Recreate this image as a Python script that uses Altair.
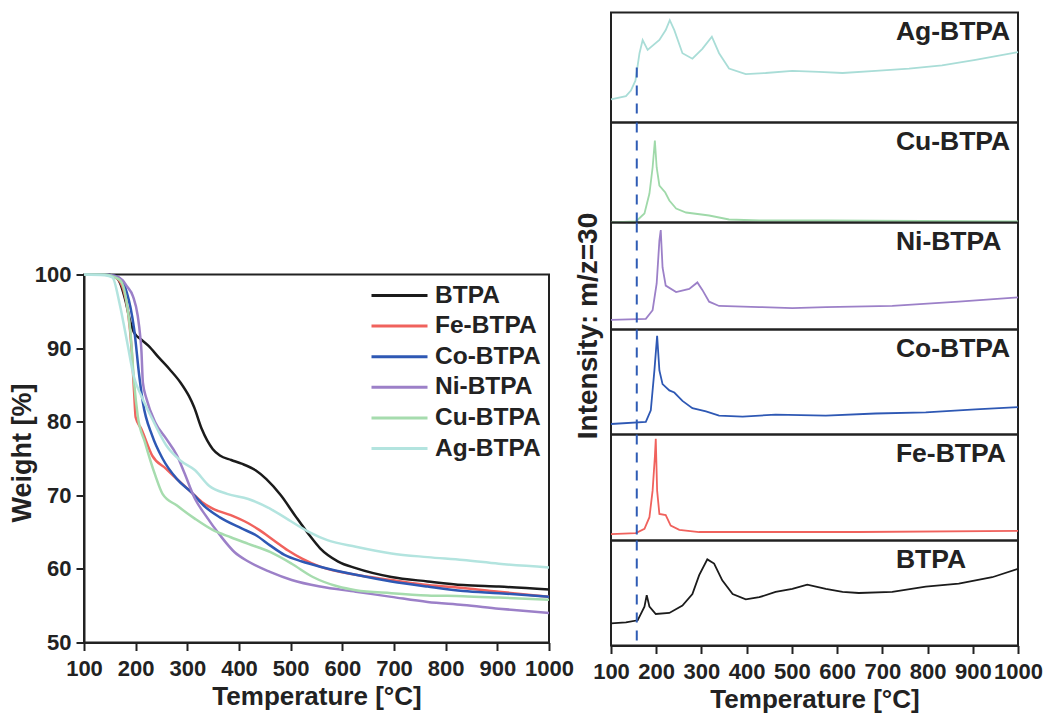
import altair as alt
import pandas as pd

FONT = "Liberation Sans"
INK = "#222222"

ORDER = ["BTPA", "Fe-BTPA", "Co-BTPA", "Ni-BTPA", "Cu-BTPA", "Ag-BTPA"]
COLORS = ["#1b1b1b", "#F0625D", "#2E58B4", "#9C80C8", "#A6DCAE", "#B3E4DF"]

# ---------------- TGA (left) ----------------
tga_T_btpa = [100, 140, 160, 170, 180, 190, 197, 210, 225, 245, 266, 287, 303, 313, 328, 349, 363, 385, 405, 432, 453, 481, 508, 536, 557, 592, 626, 695, 765, 834, 903, 1000]
tga_W_btpa = [100, 100, 99.7, 98.8, 96.5, 93.5, 92.1, 91.2, 90.3, 88.7, 87.1, 85.3, 83.5, 82.0, 79.0, 76.3, 75.4, 74.8, 74.3, 73.4, 72.2, 70.0, 67.3, 64.6, 62.8, 61.0, 60.1, 58.9, 58.3, 57.8, 57.6, 57.2]

tga_T_fe = [100, 140, 160, 170, 176, 185, 192, 197, 200, 211, 232, 259, 280, 308, 328, 349, 384, 418, 439, 467, 495, 522, 557, 626, 695, 765, 834, 903, 1000]
tga_W_fe = [100, 100, 99.6, 99.0, 98.0, 95.0, 90.0, 84.0, 80.6, 79.0, 75.4, 73.6, 72.2, 70.4, 69.1, 68.2, 67.3, 66.2, 65.3, 63.9, 62.5, 61.4, 60.3, 59.2, 58.5, 57.8, 57.4, 56.9, 56.2]

tga_T_co = [100, 140, 160, 175, 183, 190, 197, 207, 214, 232, 252, 280, 308, 335, 363, 405, 432, 460, 488, 522, 557, 626, 695, 765, 834, 903, 1000]
tga_W_co = [100, 100, 99.8, 99.0, 97.5, 95.5, 92.6, 86.2, 82.6, 78.1, 75.0, 72.2, 70.4, 68.4, 67.0, 65.5, 64.6, 63.2, 61.9, 61.0, 60.3, 59.2, 58.3, 57.6, 57.0, 56.7, 56.2]

tga_T_ni = [100, 140, 160, 175, 183, 195, 204, 209, 211, 214, 221, 238, 259, 280, 294, 315, 335, 363, 391, 418, 460, 502, 557, 626, 695, 765, 834, 903, 1000]
tga_W_ni = [100, 100, 99.8, 99.2, 98.4, 97.0, 94.4, 91.5, 89.8, 85.3, 83.1, 79.9, 77.7, 75.4, 73.1, 69.5, 67.3, 64.6, 62.3, 61.0, 59.6, 58.5, 57.6, 56.9, 56.2, 55.5, 55.1, 54.6, 54.0]

tga_T_cu = [100, 140, 160, 170, 176, 183, 190, 197, 204, 218, 238, 252, 280, 315, 349, 384, 418, 460, 502, 543, 592, 626, 695, 765, 834, 903, 1000]
tga_W_cu = [100, 100, 99.6, 99.2, 98.4, 96.0, 92.1, 85.3, 80.8, 77.2, 72.7, 70.2, 68.6, 66.8, 65.3, 64.3, 63.4, 62.3, 60.7, 58.9, 57.6, 57.1, 56.7, 56.4, 56.3, 56.1, 55.8]

tga_T_ag = [100, 140, 155, 169, 183, 197, 211, 232, 259, 287, 315, 342, 377, 418, 460, 502, 536, 571, 626, 695, 765, 834, 903, 1000]
tga_W_ag = [100, 99.9, 99.6, 96.0, 91.0, 86.0, 83.5, 80.4, 76.8, 74.7, 73.4, 71.3, 70.2, 69.5, 68.2, 66.4, 65.0, 63.9, 63.0, 62.1, 61.6, 61.2, 60.7, 60.2]

# ---------------- MS m/z=30 (right), intensity as fraction of panel height ----------------
ms_T_ag = [100, 133, 144, 154, 163, 170, 181, 207, 221, 230, 240, 258, 280, 302, 323, 339, 361, 398, 442, 501, 560, 612, 685, 759, 832, 906, 1000]
ms_V_ag = [0.21, 0.24, 0.29, 0.38, 0.63, 0.75, 0.66, 0.75, 0.84, 0.93, 0.84, 0.63, 0.58, 0.67, 0.78, 0.63, 0.49, 0.44, 0.45, 0.47, 0.46, 0.45, 0.47, 0.49, 0.52, 0.57, 0.64]

ms_T_cu = [100, 155, 174, 185, 192, 197, 201, 207, 220, 229, 244, 266, 317, 361, 428, 575, 1000]
ms_V_cu = [0.0, 0.01, 0.09, 0.29, 0.55, 0.82, 0.55, 0.37, 0.30, 0.22, 0.14, 0.10, 0.07, 0.03, 0.02, 0.02, 0.01]

ms_T_ni = [100, 177, 192, 201, 207, 210, 214, 221, 244, 273, 291, 302, 317, 339, 428, 501, 575, 722, 869, 1000]
ms_V_ni = [0.09, 0.10, 0.18, 0.43, 0.83, 0.93, 0.58, 0.41, 0.35, 0.38, 0.44, 0.37, 0.26, 0.22, 0.21, 0.20, 0.21, 0.22, 0.26, 0.30]

ms_T_co = [100, 177, 188, 196, 202, 207, 214, 229, 240, 258, 280, 310, 339, 391, 464, 575, 685, 796, 906, 1000]
ms_V_co = [0.10, 0.12, 0.23, 0.61, 0.94, 0.61, 0.48, 0.42, 0.40, 0.32, 0.25, 0.22, 0.18, 0.17, 0.19, 0.18, 0.20, 0.21, 0.24, 0.26]

ms_T_fe = [100, 155, 174, 185, 192, 197, 199, 202, 207, 221, 232, 251, 295, 428, 648, 1000]
ms_V_fe = [0.06, 0.07, 0.11, 0.22, 0.47, 0.79, 0.96, 0.47, 0.25, 0.24, 0.14, 0.10, 0.08, 0.08, 0.08, 0.09]

ms_T_btpa = [100, 133, 159, 174, 179, 185, 199, 229, 258, 280, 295, 313, 328, 346, 369, 398, 428, 464, 501, 534, 575, 612, 648, 722, 796, 869, 943, 1000]
ms_V_btpa = [0.21, 0.22, 0.24, 0.37, 0.48, 0.37, 0.30, 0.31, 0.38, 0.49, 0.67, 0.82, 0.78, 0.62, 0.49, 0.44, 0.46, 0.51, 0.54, 0.58, 0.54, 0.51, 0.50, 0.51, 0.56, 0.59, 0.65, 0.73]

# panels top to bottom
panel_names = ["Ag-BTPA", "Cu-BTPA", "Ni-BTPA", "Co-BTPA", "Fe-BTPA", "BTPA"]
panel_T = [ms_T_ag, ms_T_cu, ms_T_ni, ms_T_co, ms_T_fe, ms_T_btpa]
panel_V = [ms_V_ag, ms_V_cu, ms_V_ni, ms_V_co, ms_V_fe, ms_V_btpa]
panel_colors = ["#A9DDD7", "#9FD9A9", "#9C80C8", "#2E58B4", "#F0625D", "#1b1b1b"]
panel_heights = [110, 100, 107, 105, 106, 105]
dash_top = [0.5, 1, 1, 1, 1, 1]
dash_bot = [0, 0, 0, 0, 0, 0.048]
onset_T = 157
label_T = 730

# ---------------- build left chart ----------------
tga_sets = [
    ("BTPA", tga_T_btpa, tga_W_btpa),
    ("Fe-BTPA", tga_T_fe, tga_W_fe),
    ("Co-BTPA", tga_T_co, tga_W_co),
    ("Ni-BTPA", tga_T_ni, tga_W_ni),
    ("Cu-BTPA", tga_T_cu, tga_W_cu),
    ("Ag-BTPA", tga_T_ag, tga_W_ag),
]
rows = []
for name, T, W in tga_sets:
    for k, (t, w) in enumerate(zip(T, W)):
        rows.append({"sample": name, "T": t, "W": w, "i": k})
tga = pd.DataFrame(rows)

x_ticks = list(range(100, 1001, 100))

left_chart = alt.Chart(tga).mark_line(strokeWidth=2.5, interpolate="monotone").encode(
    x=alt.X("T:Q", scale=alt.Scale(domain=[100, 1000], nice=False, zero=False),
            axis=alt.Axis(values=x_ticks, title="Temperature [°C]", labelPadding=8,
                          titlePadding=4, labelFlush=False, labelOverlap=False, format="d")),
    y=alt.Y("W:Q", scale=alt.Scale(domain=[50, 100], nice=False, zero=False),
            axis=alt.Axis(values=[50, 60, 70, 80, 90, 100], title="Weight [%]", labelPadding=5,
                          titleX=-53.5, titleY=178, titleAngle=270, titleAlign="center",
                          titleBaseline="alphabetic", titleFontSize=27, format="d")),
    color=alt.Color("sample:N", sort=ORDER, scale=alt.Scale(domain=ORDER, range=COLORS),
                    legend=alt.Legend(title=None, orient="none", legendX=286, legendY=268,
                                      symbolType="stroke", symbolSize=3136, symbolStrokeWidth=3,
                                      clipHeight=30, rowPadding=0.6, labelFont=FONT,
                                      labelFontSize=24.5, labelFontWeight="bold", labelColor=INK,
                                      labelOffset=6, padding=0)),
    order=alt.Order("i:Q"),
    detail="sample:N",
).properties(width=465, height=368)

spacer = alt.Chart(pd.DataFrame({"a": [0]})).mark_point(opacity=0, size=1).encode(
    x=alt.value(100), y=alt.value(100)
).properties(width=465, height=262, view=alt.ViewBackground(stroke="transparent"))

left = alt.vconcat(spacer, left_chart, spacing=0, bounds="flush")

# ---------------- build right panels ----------------
panels = []
n = len(panel_names)
for j in range(n):
    df = pd.DataFrame({"T": panel_T[j], "V": panel_V[j]})
    last = j == n - 1
    if last:
        xaxis = alt.Axis(values=x_ticks, title="Temperature [°C]", labelPadding=8, titlePadding=4,
                         labelFlush=False, labelOverlap=False, format="d")
    else:
        xaxis = None
    if panel_names[j] == "Ni-BTPA":
        yaxis = alt.Axis(title="Intensity: m/z=30", labels=False, ticks=False, domain=False,
                         grid=False, titleX=-15, titleY=103, titleAngle=270, titleAlign="center",
                         titleBaseline="alphabetic", titleFontSize=28)
    else:
        yaxis = None
    xs = alt.Scale(domain=[100, 1000], nice=False, zero=False)
    ys = alt.Scale(domain=[0, 1], nice=False, zero=False)
    line = alt.Chart(df).mark_line(strokeWidth=1.8, color=panel_colors[j]).encode(
        x=alt.X("T:Q", scale=xs, axis=xaxis),
        y=alt.Y("V:Q", scale=ys, axis=yaxis),
    )
    rule_df = pd.DataFrame({"T": [onset_T], "y1": [dash_top[j]], "y2": [dash_bot[j]]})
    rule = alt.Chart(rule_df).mark_rule(color="#2F5CB5", strokeWidth=2, strokeDash=[10, 8]).encode(
        x=alt.X("T:Q", scale=xs), y=alt.Y("y1:Q", scale=ys), y2="y2:Q"
    )
    lab_df = pd.DataFrame({"T": [label_T], "label": [panel_names[j]]})
    lab = alt.Chart(lab_df).mark_text(align="left", baseline="top", font=FONT, fontSize=26.5,
                                      fontWeight="bold", color=INK).encode(
        x=alt.X("T:Q", scale=xs), y=alt.value(6), text="label:N"
    )
    panels.append(alt.layer(line, rule, lab).properties(width=407, height=panel_heights[j]))

right = alt.vconcat(*panels, spacing=0, bounds="flush")

chart = alt.hconcat(left, right, spacing=-3).properties(
    padding={"left": 7, "top": 11.5, "right": 2, "bottom": 0}
).configure_view(
    stroke=INK, strokeWidth=2
).configure_axis(
    labelFont=FONT, labelFontSize=22, labelFontWeight="bold", labelColor=INK,
    titleFont=FONT, titleFontSize=26, titleFontWeight="bold", titleColor=INK,
    tickColor=INK, tickWidth=2, tickSize=8, domainColor=INK, domainWidth=2, grid=False,
)

chart.save("out.html", embed_options={"renderer": "svg", "actions": False})
